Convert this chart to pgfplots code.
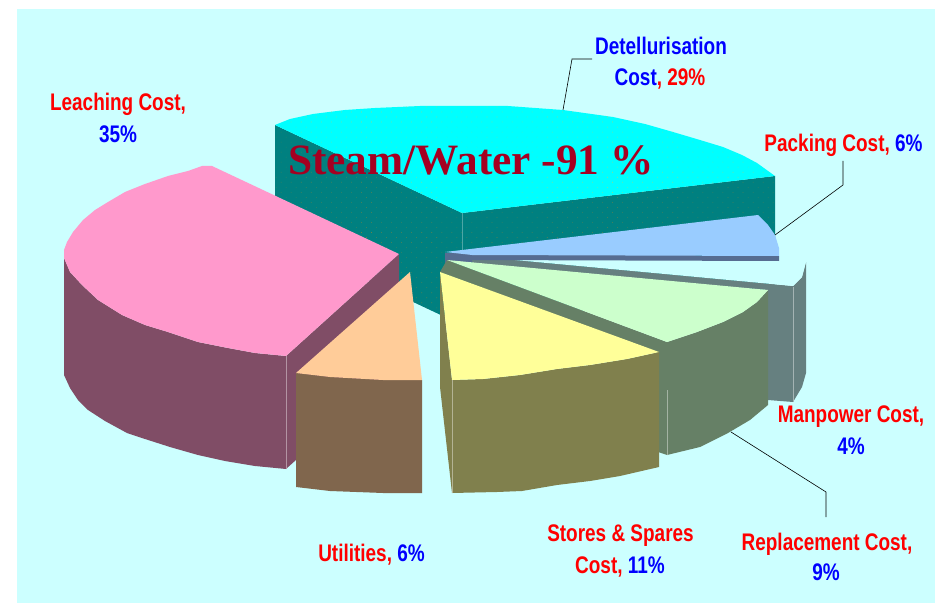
\documentclass[border=0pt]{standalone}
\usepackage{fontspec}
\usepackage{pgfplots}
\pgfplotsset{compat=1.18}
\usetikzlibrary{patterns.meta}
\newfontfamily\lab[FakeStretch=0.79]{Liberation Sans}
\newfontfamily\ttl{Liberation Serif}
\definecolor{bgc}{HTML}{CCFFFF}
\definecolor{cyantop}{HTML}{00FFFF}
\definecolor{tealside}{HTML}{008080}
\definecolor{dotA}{HTML}{B4D070}
\definecolor{dotB}{HTML}{6C8048}
\definecolor{pinktop}{HTML}{FF99CC}
\definecolor{pinkside}{HTML}{804D66}
\definecolor{peachtop}{HTML}{FFCC99}
\definecolor{peachside}{HTML}{80664D}
\definecolor{yeltop}{HTML}{FFFF99}
\definecolor{yelside}{HTML}{80804D}
\definecolor{grntop}{HTML}{CCFFCC}
\definecolor{grnside}{HTML}{668066}
\definecolor{manside}{HTML}{668080}
\definecolor{bluetop}{HTML}{99CCFF}
\definecolor{blueside}{HTML}{566C91}
\definecolor{ttlc}{HTML}{A50021}
\newcommand{\R}[1]{\textcolor{red}{#1}}
\newcommand{\B}[1]{\textcolor{blue}{#1}}
\tikzset{lbl/.style={anchor=base,inner sep=0pt,font=\lab\bfseries\fontsize{24}{24}\selectfont},
  dotsA/.style={draw=none,pattern={Dots[distance=7.1pt,angle=45,radius=0.4pt]},pattern color=dotA},
  dotsB/.style={draw=none,pattern={Dots[distance=7.1pt,angle=45,radius=0.4pt]},pattern color=dotB}}
\begin{document}
\begin{tikzpicture}
\begin{axis}[
    scale only axis,
    width=937pt, height=604pt,
    xmin=0, xmax=937, ymin=0, ymax=604,
    y dir=reverse,
    hide axis,
]
% page and panel
\addplot[fill=white,draw=none] coordinates {(0,0)(937,0)(937,604)(0,604)};
\addplot[fill=bgc,draw=none] coordinates {(17,9)(935,9)(935,603)(17,603)};

% Detellurisation 29%
\addplot[fill=tealside,draw=none] coordinates {(275,125)(462,213)(775,176)(775,288)(462,325)(275,237)};
\addplot[dotsB] coordinates {(275,125)(462,213)(775,176)(775,288)(462,325)(275,237)};
\addplot[fill=cyantop,draw=none] coordinates {(275,125)(290,119)(313,114)(345,110)(375,108)(420,106)(508,106)(563,110)(613,117)(645,124)(673,132)(700,140)(723,147)(742,155)(757,163)(775,176)(462,213)};
\addplot[dotsA] coordinates {(275,125)(290,119)(313,114)(345,110)(375,108)(420,106)(508,106)(563,110)(613,117)(645,124)(673,132)(700,140)(723,147)(742,155)(757,163)(775,176)(462,213)};
\addplot[color=tealside!70!white,line width=0.6pt] coordinates {(462,213)(462,251)};

% Manpower 4%
\addplot[fill=manside,draw=none] coordinates {(472,256)(793,286)(802,277)(806,262)(806,373)(802,387)(793,402)(768,400)(768,290)(472,265)};
\addplot[fill=bgc,draw=none] coordinates {(472,256)(779,256)(790,258)(806,262)(802,277)(793,286)};
\addplot[color=manside!60!white,line width=0.6pt] coordinates {(793,287)(793,402)};

% Packing 6%
\addplot[fill=blueside,draw=none] coordinates {(445,253)(779,256)(779,261)(472,260)(472,262)(447,262)(447,272)(445,272)};
\addplot[fill=bluetop,draw=none] coordinates {(445,252)(758,215)(768,225)(775,235)(779,248)(779,256)(472,255)};

% Replacement 9%
\addplot[fill=grnside,draw=none] coordinates {(447,260)(667,342)(667,455)(658,452)(658,353)(440,272)};
\addplot[fill=grnside,draw=none] coordinates {(768,290)(757,302)(743,312)(723,322)(697,332)(667,342)(667,455)(700,447)(728,433)(750,420)(768,405)};
\addplot[fill=grntop,draw=none] coordinates {(447,260)(768,290)(757,302)(743,312)(723,322)(697,332)(667,342)};
\addplot[color=grnside!60!white,line width=0.6pt] coordinates {(667,390)(667,455)};

% Stores & Spares 11%
\addplot[fill=yelside,draw=none] coordinates {(440,272)(452,380)(452,493)(440,387)};
\addplot[fill=yelside,draw=none] coordinates {(452,380)(483,379)(520,375)(557,369)(590,365)(627,359)(659,352)(659,467)(620,476)(590,481)(557,485)(522,491)(497,492)(452,493)};
\addplot[fill=yeltop,draw=none] coordinates {(440,272)(659,352)(627,359)(590,365)(557,369)(520,375)(483,379)(452,380)};
\addplot[color=yelside!60!white,line width=0.6pt] coordinates {(452,380)(452,493)};

% Leaching 35%
\addplot[fill=pinkside,draw=none] coordinates {(286,356)(399,254)(399,367)(286,469)};
\addplot[fill=pinkside,draw=none] coordinates {(64,258)(70,272)(82,285)(98,300)(122,315)(145,325)(168,332)(198,342)(228,348)(255,353)(286,356)(286,469)(255,466)(225,461)(198,455)(170,447)(145,439)(127,433)(105,421)(88,410)(78,400)(70,388)(64,375)};
\addplot[fill=pinktop,draw=none] coordinates {(399,254)(212,166)(202,166)(188,171)(168,176)(145,184)(125,192)(108,202)(95,210)(83,220)(73,232)(67,242)(64,250)(64,258)(70,272)(82,285)(98,300)(122,315)(145,325)(168,332)(198,342)(228,348)(255,353)(286,356)};
\addplot[color=pinkside!60!white,line width=0.6pt] coordinates {(286,356)(286,469)};

% Utilities 6%
\addplot[fill=peachside,draw=none] coordinates {(296,373)(330,377)(383,380)(422,380)(422,493)(383,493)(330,491)(296,487)};
\addplot[fill=peachtop,draw=none] coordinates {(410,272)(422,380)(383,380)(330,377)(296,373)};

% leader lines
\addplot[color=black,line width=0.6pt] coordinates {(563,110)(572,59)(592,59)};
\addplot[color=black,line width=0.6pt] coordinates {(775,235)(843,185)(843,161)};
\addplot[color=black,line width=0.6pt] coordinates {(731,432)(826,492)(826,517)};

% labels
\node[lbl] at (axis cs:118,111) {\R{Leaching Cost,}};
\node[lbl] at (axis cs:118,143) {\B{35\%}};
\node[lbl] at (axis cs:661,55) {\B{Detellurisation}};
\node[lbl] at (axis cs:660,86) {\B{Cost}\R{, 29\%}};
\node[lbl] at (axis cs:843.5,152) {\R{Packing Cost,} \B{6\%}};
\node[lbl] at (axis cs:851,422) {\R{Manpower Cost,}};
\node[lbl] at (axis cs:851,454) {\B{4\%}};
\node[lbl] at (axis cs:827,550) {\R{Replacement Cost,}};
\node[lbl] at (axis cs:826,580) {\B{9\%}};
\node[lbl] at (axis cs:620.5,541) {\R{Stores \& Spares}};
\node[lbl] at (axis cs:620,573) {\R{Cost,} \B{11\%}};
\node[lbl] at (axis cs:371.5,561) {\R{Utilities,} \B{6\%}};
\node[anchor=base west,inner sep=0pt,text=ttlc,font=\ttl\bfseries\fontsize{43.3}{43.3}\selectfont] at (axis cs:288,175) {Steam/Water -91 \%};
\end{axis}
\end{tikzpicture}
\end{document}
